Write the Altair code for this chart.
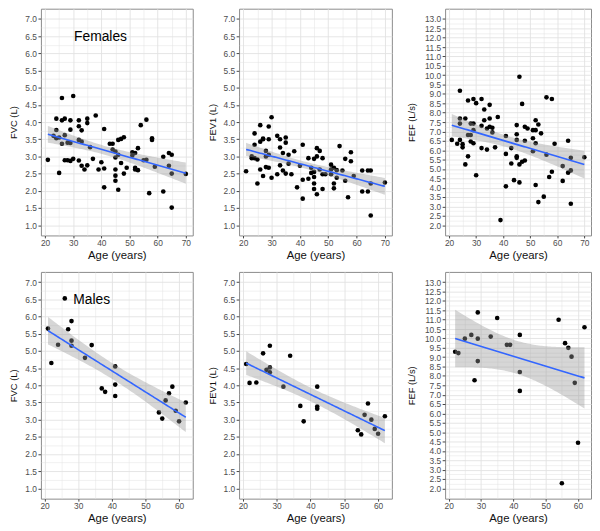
import altair as alt
import numpy as np
import pandas as pd

# ---------------- data ----------------
F_FVC_AGE = [21, 24, 24, 23, 24, 25, 25, 26, 26, 26, 27, 27, 27, 28, 28, 29, 29, 29, 29,
             30, 30, 32, 32, 32, 32, 33, 33, 33, 34, 35, 35, 35, 36, 37, 38, 39, 40,
             41, 41, 41, 43, 44, 44, 45, 45, 45, 45, 45, 46, 46, 46, 47, 47, 48, 48, 49,
             51, 51, 52, 52, 52, 53, 53, 54, 55, 56, 56, 57, 58, 58, 59, 62, 62, 64, 64,
             65, 65, 65, 70]
F_FVC = [2.90, 4.10, 3.77, 3.60, 3.53, 2.52, 3.55, 4.70, 4.05, 3.37, 3.62, 4.10, 2.89, 2.89, 3.40,
         3.39, 4.05, 3.78, 2.87, 4.76, 2.93, 4.05, 3.88, 3.48, 2.88, 3.76, 3.43, 2.73, 2.62,
         4.10, 3.97, 2.74, 3.27, 2.93, 4.19, 2.62, 2.83, 3.80, 2.65, 2.10, 3.37, 3.20, 3.37,
         3.14, 2.97, 2.62, 2.44, 2.29, 3.05, 3.48, 2.03, 3.51, 2.81, 3.56, 2.50, 2.67, 3.12,
         3.03, 3.10, 2.67, 2.62, 2.60, 3.24, 3.91, 2.89, 4.07, 2.90, 1.93, 3.53, 3.48, 2.70,
         2.99, 1.98, 2.73, 3.10, 3.05, 2.50, 1.51, 2.49]

F_FEV1_AGE = [21, 23, 23, 24, 24, 24, 25, 25, 26, 26, 26, 27, 27, 27, 28, 28, 28, 29, 29, 29, 29,
              30, 30, 32, 32, 33, 33, 33, 34, 34, 35, 35, 35, 36, 36, 37, 38, 39, 40, 41, 41,
              41, 43, 43, 44, 44, 45, 45, 45, 45, 45, 46, 46, 46, 47, 47, 48, 48, 48, 49, 51,
              51, 51, 52, 52, 52, 53, 53, 54, 55, 56, 56, 57, 58, 58, 59, 62, 62, 64, 64, 65,
              65, 65, 70]
F_FEV1 = [2.57, 2.95, 3.00, 3.67, 3.34, 2.95, 2.21, 2.91, 3.91, 3.43, 2.62, 3.50, 2.43, 3.52,
          2.69, 3.16, 3.00, 3.87, 3.50, 3.05, 2.67, 4.14, 2.38, 3.60, 2.48, 3.26, 3.50, 2.74,
          3.10, 2.59, 3.55, 3.40, 2.50, 3.05, 2.79, 2.48, 3.15, 2.10, 2.73, 3.34, 1.77, 2.32,
          2.95, 2.35, 2.52, 2.67, 2.93, 2.55, 2.40, 2.21, 2.05, 3.00, 3.24, 1.90, 3.16, 2.62,
          2.95, 2.48, 2.05, 2.48, 2.76, 2.48, 2.62, 2.67, 2.21, 2.07, 2.60, 2.38, 3.30, 2.59,
          2.93, 2.29, 1.81, 2.86, 3.12, 2.43, 2.59, 1.98, 2.59, 1.98, 2.59, 1.28, 2.21, 2.24]

F_FEF_AGE = [21, 23, 24, 24, 24, 24, 25, 25, 26, 26, 27, 27, 27, 28, 28, 28, 29, 29, 29, 29, 30,
             30, 32, 32, 32, 33, 33, 34, 34, 35, 35, 35, 36, 36, 37, 38, 39, 41, 41, 41, 43,
             43, 44, 45, 45, 45, 45, 45, 46, 46, 46, 47, 47, 48, 48, 48, 49, 51, 51, 51, 52,
             52, 52, 52, 53, 53, 54, 55, 56, 56, 57, 58, 58, 59, 62, 62, 64, 64, 65, 65, 65, 70]
F_FEF = [6.55, 6.34, 9.17, 7.69, 7.42, 6.55, 6.32, 6.15, 7.69, 5.24, 6.81, 5.67, 8.65, 7.42,
         6.81, 6.46, 7.42, 8.73, 7.07, 6.37, 8.51, 4.66, 8.73, 7.30, 6.11, 8.17, 7.60, 6.03,
         7.16, 8.42, 7.69, 7.25, 7.20, 6.95, 6.15, 7.77, 2.27, 6.76, 5.80, 4.07, 6.11, 5.29,
         4.40, 7.34, 6.85, 6.55, 5.67, 5.59, 9.92, 5.24, 4.28, 8.47, 5.38, 5.45, 7.25, 6.50,
         7.16, 6.64, 7.07, 5.94, 7.60, 7.07, 6.37, 4.14, 7.37, 3.23, 6.90, 3.52, 5.76, 8.82,
         4.57, 8.73, 4.85, 6.34, 5.15, 4.36, 6.50, 4.80, 4.92, 5.59, 3.14, 5.62]

M_FVC_AGE = [21, 22, 24, 26, 27, 28, 28, 28, 32, 34, 37, 38, 41, 41, 41, 54, 55, 56, 57, 58, 59, 60, 62]
M_FVC = [5.65, 4.65, 5.18, 6.53, 5.63, 5.87, 5.30, 5.15, 4.80, 5.17, 3.91, 3.81, 4.55, 4.02,
         3.69, 3.21, 3.03, 3.56, 3.77, 3.96, 3.26, 2.95, 3.50]

M_FEV1_AGE = [21, 22, 24, 26, 27, 28, 28, 28, 32, 34, 37, 38, 42, 42, 42, 54, 55, 56, 57, 58, 59, 60, 62]
M_FEV1 = [4.62, 4.07, 4.08, 4.93, 4.45, 5.15, 4.52, 4.38, 3.96, 4.86, 3.40, 2.95, 3.96, 3.38,
          3.32, 2.69, 2.57, 3.14, 3.47, 3.00, 2.73, 2.59, 3.10]

M_FEF_AGE = [22, 23, 25, 27, 28, 29, 29, 29, 33, 35, 38, 39, 42, 42, 42, 54, 55, 56, 57, 58, 59, 60, 62]
M_FEF = [9.29, 9.22, 9.99, 10.19, 7.77, 11.39, 9.99, 8.79, 10.10, 11.09, 9.66, 9.66, 10.19,
         8.21, 7.20, 11.00, 2.27, 9.75, 9.50, 9.03, 7.63, 4.43, 10.60]

# tick labels
X_TICKS = [20, 30, 40, 50, 60, 70]
Y_TICKS_VOL = [1.0, 1.5, 2.0, 2.5, 3.0, 3.5, 4.0, 4.5, 5.0, 5.5, 6.0, 6.5, 7.0]
Y_TICKS_FEF = [2.0, 2.5, 3.0, 3.5, 4.0, 4.5, 5.0, 5.5, 6.0, 6.5, 7.0, 7.5, 8.0, 8.5, 9.0,
               9.5, 10.0, 10.5, 11.0, 11.5, 12.0, 12.5, 13.0]

# annotations (text, age, value)
FEMALE_LABEL = ("Females", 39.7, 6.48)
MALE_LABEL = ("Males", 34.0, 6.49)

FONT = "Liberation Sans"


def t975(df):
    z = 1.959964
    g1 = (z ** 3 + z) / 4
    g2 = (5 * z ** 5 + 16 * z ** 3 + 3 * z) / 96
    g3 = (3 * z ** 7 + 19 * z ** 5 + 17 * z ** 3 - 15 * z) / 384
    return z + g1 / df + g2 / df ** 2 + g3 / df ** 3


def expand(lo, hi, mult=0.05, eps=0.001):
    r = hi - lo
    return [round(lo - mult * r, 6) - eps, round(hi + mult * r, 6) + eps]


def x_domain(ages):
    dom = expand(min(ages), max(ages), eps=0.02)
    # keep the first age label fully inside the panel (room for its text)
    first = min(v for v in X_TICKS if v >= dom[0])
    if first - dom[0] < 1.1:
        dom[0] = first - 1.1
    return dom


def with_minor(majors, domain):
    step = majors[1] - majors[0]
    ext = [majors[0] - step] + list(majors) + [majors[-1] + step]
    minors = [round((a + b) / 2, 4) for a, b in zip(ext[:-1], ext[1:])]
    margin = 0.03 * (domain[1] - domain[0])
    keep_major = [v for v in majors if domain[0] <= v <= domain[1]]
    keep_minor = [v for v in minors if domain[0] + margin <= v <= domain[1] - margin]
    return sorted(set(keep_major + keep_minor))


def panel(ages, vals, ytitle, yticks, ydomain, width, ext, tpad, label=None):
    xdom = x_domain(ages)
    ages = np.asarray(ages, float)
    vals = np.asarray(vals, float)
    n = len(ages)

    # OLS fit and 95% confidence band
    xbar = ages.mean()
    sxx = ((ages - xbar) ** 2).sum()
    b1 = ((ages - xbar) * (vals - vals.mean())).sum() / sxx
    b0 = vals.mean() - b1 * xbar
    resid = vals - (b0 + b1 * ages)
    s = np.sqrt((resid ** 2).sum() / (n - 2))
    xs = np.linspace(ages.min(), ages.max(), 80)
    yh = b0 + b1 * xs
    se = s * np.sqrt(1.0 / n + (xs - xbar) ** 2 / sxx)
    tq = t975(n - 2)
    fit = pd.DataFrame({"age": xs, "fit": yh, "lo": yh - tq * se, "hi": yh + tq * se})
    pts = pd.DataFrame({"age": ages, "val": vals})

    xstep = X_TICKS[1] - X_TICKS[0]
    xvals = [float(v) for v in with_minor(X_TICKS, xdom)]
    yvals = with_minor(yticks, ydomain)
    ystep = yticks[1] - yticks[0]

    xmajor = f"abs(datum.value/{xstep} - round(datum.value/{xstep})) < 0.001"
    ymajor = f"abs(datum.value/{ystep} - round(datum.value/{ystep})) < 0.001"

    xaxis = alt.Axis(
        values=xvals, title="Age (years)", grid=True, domain=False,
        gridColor="#e2e2e2",
        gridWidth={"condition": {"test": xmajor, "value": 0.9}, "value": 0.5},
        tickSize=2.5, tickColor="#444444",
        tickOpacity={"condition": {"test": xmajor, "value": 1}, "value": 0},
        labelExpr=f"{xmajor} ? format(datum.value, 'd') : ''",
        labelFontSize=8.5, labelColor="#4d4d4d", labelPadding=0.5, labelFont=FONT,
        labelOverlap=False, labelFlush=False, labelBound=20,
        titleFontSize=11.5, titleFontWeight="normal", titleColor="#111111",
        titlePadding=3, titleFont=FONT,
    )
    yaxis = alt.Axis(
        values=yvals, title=ytitle, grid=True, domain=False,
        gridColor="#e2e2e2",
        gridWidth={"condition": {"test": ymajor, "value": 0.9}, "value": 0.5},
        tickSize=3, tickColor="#444444",
        tickOpacity={"condition": {"test": ymajor, "value": 1}, "value": 0},
        labelExpr=f"{ymajor} ? format(datum.value, '.1f') : ''",
        labelFontSize=8.5, labelColor="#4d4d4d", labelPadding=1.5, labelFont=FONT,
        labelOverlap=False, labelFlush=False,
        minExtent=ext, maxExtent=ext,
        titleFontSize=9.5, titleFontWeight="normal", titleColor="#111111",
        titlePadding=tpad, titleFont=FONT,
    )
    xs_scale = alt.Scale(domain=xdom, nice=False, zero=False)
    ys_scale = alt.Scale(domain=ydomain, nice=False, zero=False)

    points = alt.Chart(pts).mark_circle(size=22, color="black", opacity=1).encode(
        x=alt.X("age:Q", scale=xs_scale, axis=xaxis),
        y=alt.Y("val:Q", scale=ys_scale, axis=yaxis),
    )
    band = alt.Chart(fit).mark_area(color="#999999", opacity=0.4).encode(
        x=alt.X("age:Q", scale=xs_scale, axis=xaxis),
        y=alt.Y("lo:Q", scale=ys_scale, axis=yaxis),
        y2="hi:Q",
    )
    line = alt.Chart(fit).mark_line(color="#3366FF", strokeWidth=1.6).encode(
        x=alt.X("age:Q", scale=xs_scale, axis=xaxis),
        y=alt.Y("fit:Q", scale=ys_scale, axis=yaxis),
    )
    layers = [points, band, line]
    if label is not None:
        lab = pd.DataFrame({"t": [label[0]], "age": [label[1]], "val": [label[2]]})
        txt = alt.Chart(lab).mark_text(fontSize=14, font=FONT, color="black",
                                       align="center", baseline="middle").encode(
            x=alt.X("age:Q", scale=xs_scale, axis=xaxis),
            y=alt.Y("val:Q", scale=ys_scale, axis=yaxis),
            text="t:N",
        )
        layers.append(txt)
    return alt.layer(*layers).properties(width=width, height=230)


VOL_DOM = expand(Y_TICKS_VOL[0], Y_TICKS_VOL[-1])
FEF_DOM = expand(Y_TICKS_FEF[0], Y_TICKS_FEF[-1])

p1 = panel(F_FVC_AGE, F_FVC, "FVC (L)", Y_TICKS_VOL, VOL_DOM, 154, 16.5, 5.8, FEMALE_LABEL)
p2 = panel(F_FEV1_AGE, F_FEV1, "FEV1 (L)", Y_TICKS_VOL, VOL_DOM, 155, 16.5, 5.6)
p3 = panel(F_FEF_AGE, F_FEF, "FEF (L/s)", Y_TICKS_FEF, FEF_DOM, 148, 21, 7.9)
p4 = panel(M_FVC_AGE, M_FVC, "FVC (L)", Y_TICKS_VOL, VOL_DOM, 154, 16.5, 5.8, MALE_LABEL)
p5 = panel(M_FEV1_AGE, M_FEV1, "FEV1 (L)", Y_TICKS_VOL, VOL_DOM, 155, 16.5, 5.6)
p6 = panel(M_FEF_AGE, M_FEF, "FEF (L/s)", Y_TICKS_FEF, FEF_DOM, 148, 21, 7.9)

row1 = alt.hconcat(p1, p2, p3, spacing=13)
row2 = alt.hconcat(p4, p5, p6, spacing=13)

chart = alt.vconcat(row1, row2, spacing=9).properties(
    padding={"left": 0.4, "top": -4, "right": 0, "bottom": -4},
    background="white",
).configure(font=FONT).configure_view(stroke="#8a8a8a", strokeWidth=1)

chart.save("out.html", embed_options={"renderer": "svg", "actions": False})
